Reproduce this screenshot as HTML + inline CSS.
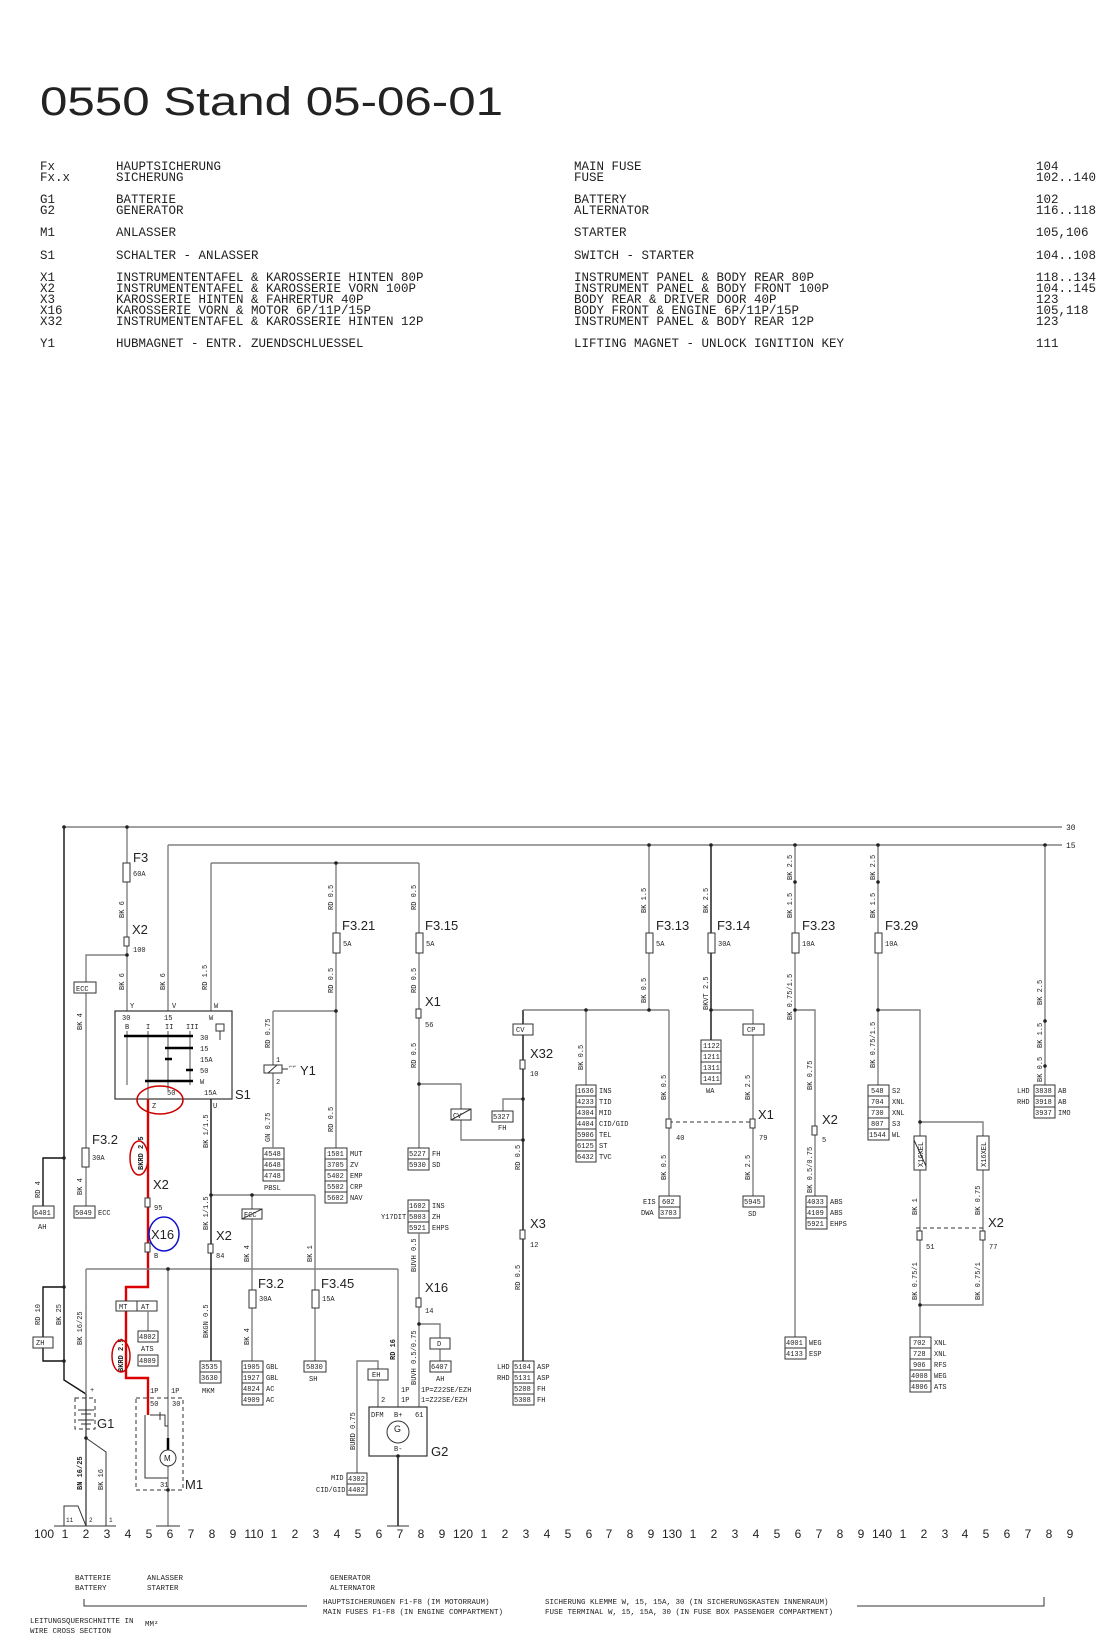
<!DOCTYPE html>
<html><head><meta charset="utf-8"><style>
html,body{margin:0;padding:0;background:#fff;}
svg{display:block;}
.m{font-family:"Liberation Mono",monospace;fill:#222;}
.s{font-family:"Liberation Sans",sans-serif;fill:#222;}
.w{stroke:#808080;stroke-width:1.4;fill:none;}
.b{stroke:#111;stroke-width:1.4;fill:none;}
.bx{fill:#fff;stroke:#333;stroke-width:1;}
.f{fill:#fff;stroke:#333;stroke-width:1;}
</style></head><body>
<svg width="1108" height="1649" viewBox="0 0 1108 1649" xmlns="http://www.w3.org/2000/svg">
<text x="40" y="115" class="s" font-size="40" textLength="463" lengthAdjust="spacingAndGlyphs">0550 Stand 05-06-01</text>
<g class="m" font-size="12.5">
<text x="40" y="170">Fx</text><text x="116" y="170">HAUPTSICHERUNG</text><text x="574" y="170">MAIN FUSE</text><text x="1036" y="170">104</text>
<text x="40" y="181">Fx.x</text><text x="116" y="181">SICHERUNG</text><text x="574" y="181">FUSE</text><text x="1036" y="181">102..140</text>
<text x="40" y="203">G1</text><text x="116" y="203">BATTERIE</text><text x="574" y="203">BATTERY</text><text x="1036" y="203">102</text>
<text x="40" y="214">G2</text><text x="116" y="214">GENERATOR</text><text x="574" y="214">ALTERNATOR</text><text x="1036" y="214">116..118</text>
<text x="40" y="236">M1</text><text x="116" y="236">ANLASSER</text><text x="574" y="236">STARTER</text><text x="1036" y="236">105,106</text>
<text x="40" y="259">S1</text><text x="116" y="259">SCHALTER - ANLASSER</text><text x="574" y="259">SWITCH - STARTER</text><text x="1036" y="259">104..108</text>
<text x="40" y="281">X1</text><text x="116" y="281">INSTRUMENTENTAFEL &amp; KAROSSERIE HINTEN 80P</text><text x="574" y="281">INSTRUMENT PANEL &amp; BODY REAR 80P</text><text x="1036" y="281">118..134</text>
<text x="40" y="292">X2</text><text x="116" y="292">INSTRUMENTENTAFEL &amp; KAROSSERIE VORN 100P</text><text x="574" y="292">INSTRUMENT PANEL &amp; BODY FRONT 100P</text><text x="1036" y="292">104..145</text>
<text x="40" y="303">X3</text><text x="116" y="303">KAROSSERIE HINTEN &amp; FAHRERTUR 40P</text><text x="574" y="303">BODY REAR &amp; DRIVER DOOR 40P</text><text x="1036" y="303">123</text>
<text x="40" y="314">X16</text><text x="116" y="314">KAROSSERIE VORN &amp; MOTOR  6P/11P/15P</text><text x="574" y="314">BODY FRONT &amp; ENGINE 6P/11P/15P</text><text x="1036" y="314">105,118</text>
<text x="40" y="325">X32</text><text x="116" y="325">INSTRUMENTENTAFEL &amp; KAROSSERIE HINTEN 12P</text><text x="574" y="325">INSTRUMENT PANEL &amp; BODY REAR 12P</text><text x="1036" y="325">123</text>
<text x="40" y="347">Y1</text><text x="116" y="347">HUBMAGNET - ENTR. ZUENDSCHLUESSEL</text><text x="574" y="347">LIFTING MAGNET - UNLOCK IGNITION KEY</text><text x="1036" y="347">111</text>
</g>

<path class="w" d="M64 827H1062M168 845H1062"/>
<text x="1066" y="830" class="m" font-size="8">30</text><text x="1066" y="848" class="m" font-size="8">15</text>
<path class="b" d="M64 827V1380L86 1394"/>
<path class="w" d="M127 827V1011M127 955H86V1206M168 845V1011M211 863V1011M211 863H419M336 863V1148M419 863V1148"/>
<rect class="f" x="123" y="863" width="7" height="19"/><text x="133" y="862" class="s" font-size="13">F3</text><text x="133" y="876" class="m" font-size="7">60A</text>
<rect class="f" x="124" y="937" width="5" height="9"/><text x="132" y="934" class="s" font-size="13">X2</text><text x="133" y="952" class="m" font-size="7">100</text>
<rect class="bx" x="74" y="982" width="22" height="11"/><text x="76" y="991" class="m" font-size="7">ECC</text>
<rect class="f" x="82" y="1148" width="7" height="19"/><text x="92" y="1144" class="s" font-size="13">F3.2</text><text x="92" y="1160" class="m" font-size="7">30A</text>
<rect class="bx" x="74" y="1206" width="21" height="12"/><text x="75" y="1215" class="m" font-size="7">5049</text><text x="98" y="1215" class="m" font-size="7">ECC</text>
<path class="b" d="M64 1158H43V1206"/>
<rect class="bx" x="33" y="1206" width="21" height="12"/><text x="34" y="1215" class="m" font-size="7">6401</text><text x="38" y="1229" class="m" font-size="7">AH</text>
<g class="m" font-size="7">
<text transform="translate(124,918) rotate(-90)">BK 6</text><text transform="translate(124,990) rotate(-90)">BK 6</text>
<text transform="translate(165,990) rotate(-90)">BK 6</text><text transform="translate(207,990) rotate(-90)">RD 1.5</text>
<text transform="translate(82,1030) rotate(-90)">BK 4</text><text transform="translate(82,1195) rotate(-90)">BK 4</text>
<text transform="translate(40,1198) rotate(-90)">RD 4</text>
<text transform="translate(333,910) rotate(-90)">RD 0.5</text><text transform="translate(333,993) rotate(-90)">RD 0.5</text><text transform="translate(333,1132) rotate(-90)">RD 0.5</text>
<text transform="translate(416,910) rotate(-90)">RD 0.5</text><text transform="translate(416,993) rotate(-90)">RD 0.5</text><text transform="translate(416,1068) rotate(-90)">RD 0.5</text>
<text transform="translate(270,1048) rotate(-90)">RD 0.75</text><text transform="translate(270,1142) rotate(-90)">GN 0.75</text>
</g>
<rect x="115" y="1011" width="117" height="88" fill="none" stroke="#333" stroke-width="1.2"/>
<g class="m" font-size="7"><text x="130" y="1008">Y</text><text x="172" y="1008">V</text><text x="214" y="1008">W</text>
<text x="122" y="1020">30</text><text x="164" y="1020">15</text><text x="209" y="1020">W</text>
<text x="125" y="1029">B</text><text x="146" y="1029">I</text><text x="165" y="1029">II</text><text x="186" y="1029">III</text>
<text x="200" y="1040">30</text><text x="200" y="1051">15</text><text x="200" y="1062">15A</text><text x="200" y="1073">50</text><text x="200" y="1084">W</text>
<text x="167" y="1095">50</text><text x="204" y="1095">15A</text><text x="152" y="1108">Z</text><text x="213" y="1108">U</text></g>
<path class="w" d="M127 1031V1085M148 1031V1099M168 1031V1090M190 1031V1085"/>
<path stroke="#000" stroke-width="2.4" d="M124 1036H193M165 1048H193M165 1059H172M186 1070H193M145 1081H193"/>
<rect x="216" y="1024" width="8" height="7" fill="none" stroke="#333"/><path stroke="#333" d="M220 1031V1040"/>
<text x="235" y="1099" class="s" font-size="13">S1</text>
<path d="M148 1099V1287H126V1301M126 1311V1378H148V1415" stroke="#d00" stroke-width="2.4" fill="none"/>
<ellipse cx="160" cy="1100" rx="23" ry="14" fill="none" stroke="#c00" stroke-width="1.5"/>
<ellipse cx="139" cy="1158" rx="9" ry="17" fill="none" stroke="#c00" stroke-width="1.5"/>
<text transform="translate(143,1170) rotate(-90)" class="m" font-size="7" font-weight="bold">BKRD 2.5</text>
<rect class="f" x="145" y="1198" width="5" height="9"/><text x="153" y="1189" class="s" font-size="13">X2</text><text x="154" y="1210" class="m" font-size="7">95</text>
<ellipse cx="164" cy="1234" rx="15" ry="17" fill="none" stroke="#11c" stroke-width="1.5"/><text x="151" y="1239" class="s" font-size="13">X16</text>
<rect class="f" x="145" y="1243" width="5" height="9"/><text x="154" y="1258" class="m" font-size="7">B</text>
<path class="w" d="M86 1269H398M86 1269V1526M168 1269V1526M398 1269V1407"/>
<path class="b" d="M398 1456V1526"/>
<path class="b" d="M211 1099V1362"/>
<path class="w" d="M211 1195H315M252 1195V1361M315 1195V1361"/>
<rect class="bx" x="242" y="1209" width="20" height="10"/><text x="244" y="1217" class="m" font-size="7">ECC</text><path stroke="#333" d="M242 1219L262 1209"/>
<rect class="f" x="208" y="1244" width="5" height="9"/><text x="216" y="1240" class="s" font-size="13">X2</text><text x="216" y="1258" class="m" font-size="7">84</text>
<rect class="f" x="249" y="1290" width="7" height="18"/><text x="258" y="1288" class="s" font-size="13">F3.2</text><text x="259" y="1301" class="m" font-size="7">30A</text>
<rect class="f" x="312" y="1290" width="7" height="18"/><text x="321" y="1288" class="s" font-size="13">F3.45</text><text x="322" y="1301" class="m" font-size="7">15A</text>
<g class="m" font-size="7">
<text transform="translate(208,1148) rotate(-90)">BK 1/1.5</text><text transform="translate(208,1230) rotate(-90)">BK 1/1.5</text>
<text transform="translate(208,1338) rotate(-90)">BKGN 0.5</text>
<text transform="translate(249,1262) rotate(-90)">BK 4</text><text transform="translate(249,1345) rotate(-90)">BK 4</text>
<text transform="translate(312,1262) rotate(-90)">BK 1</text>
<text transform="translate(82,1345) rotate(-90)">BK 16/25</text>
<text transform="translate(40,1325) rotate(-90)">RD 10</text><text transform="translate(61,1325) rotate(-90)">BK 25</text>
<text transform="translate(82,1490) rotate(-90)" font-weight="bold">BN 16/25</text><text transform="translate(103,1490) rotate(-90)">BK 16</text>
<text transform="translate(395,1360) rotate(-90)" font-weight="bold">RD 16</text>
<text transform="translate(355,1450) rotate(-90)">BURD 0.75</text>
<text transform="translate(416,1272) rotate(-90)">BUVH 0.5</text>
<text transform="translate(416,1385) rotate(-90)">BUVH 0.5/0.75</text>
</g>
<g class="m" font-size="7">
<rect class="bx" x="200" y="1361" width="21" height="11"/><text x="201" y="1369">3535</text>
<rect class="bx" x="200" y="1372" width="21" height="11"/><text x="201" y="1380">3630</text><text x="202" y="1393">MKM</text>
<rect class="bx" x="242" y="1361" width="21" height="11"/><text x="243" y="1369">1905</text><text x="266" y="1369">GBL</text>
<rect class="bx" x="242" y="1372" width="21" height="11"/><text x="243" y="1380">1927</text><text x="266" y="1380">GBL</text>
<rect class="bx" x="242" y="1383" width="21" height="11"/><text x="243" y="1391">4824</text><text x="266" y="1391">AC</text>
<rect class="bx" x="242" y="1394" width="21" height="11"/><text x="243" y="1402">4909</text><text x="266" y="1402">AC</text>
<rect class="bx" x="304" y="1361" width="22" height="11"/><text x="306" y="1369">5830</text><text x="309" y="1381">SH</text>
<rect class="bx" x="263" y="1148" width="21" height="11"/><text x="264" y="1156">4548</text>
<rect class="bx" x="263" y="1159" width="21" height="11"/><text x="264" y="1167">4648</text>
<rect class="bx" x="263" y="1170" width="21" height="11"/><text x="264" y="1178">4748</text><text x="264" y="1190">PBSL</text>
<rect class="bx" x="325" y="1148" width="22" height="11"/><text x="327" y="1156">1501</text><text x="350" y="1156">MUT</text>
<rect class="bx" x="325" y="1159" width="22" height="11"/><text x="327" y="1167">3705</text><text x="350" y="1167">ZV</text>
<rect class="bx" x="325" y="1170" width="22" height="11"/><text x="327" y="1178">5402</text><text x="350" y="1178">EMP</text>
<rect class="bx" x="325" y="1181" width="22" height="11"/><text x="327" y="1189">5502</text><text x="350" y="1189">CRP</text>
<rect class="bx" x="325" y="1192" width="22" height="11"/><text x="327" y="1200">5602</text><text x="350" y="1200">NAV</text>
<rect class="bx" x="408" y="1148" width="21" height="11"/><text x="409" y="1156">5227</text><text x="432" y="1156">FH</text>
<rect class="bx" x="408" y="1159" width="21" height="11"/><text x="409" y="1167">5930</text><text x="432" y="1167">SD</text>
<rect class="bx" x="408" y="1200" width="21" height="11"/><text x="409" y="1208">1602</text><text x="432" y="1208">INS</text>
<rect class="bx" x="408" y="1211" width="21" height="11"/><text x="409" y="1219">5803</text><text x="432" y="1219">ZH</text>
<rect class="bx" x="408" y="1222" width="21" height="11"/><text x="409" y="1230">5921</text><text x="432" y="1230">EHPS</text>
<text x="381" y="1219">Y17DIT</text>
</g>
<rect class="f" x="333" y="933" width="7" height="20"/><text x="342" y="930" class="s" font-size="13">F3.21</text><text x="343" y="946" class="m" font-size="7">5A</text>
<rect class="f" x="416" y="933" width="7" height="20"/><text x="425" y="930" class="s" font-size="13">F3.15</text><text x="426" y="946" class="m" font-size="7">5A</text>
<rect class="f" x="416" y="1009" width="5" height="9"/><text x="425" y="1006" class="s" font-size="13">X1</text><text x="425" y="1027" class="m" font-size="7">56</text>
<path class="w" d="M273 1011H336M273 1011V1148"/>
<rect class="f" x="264" y="1065" width="18" height="8"/><path stroke="#333" d="M268 1073L277 1065M282 1069H288"/>
<text x="276" y="1062" class="m" font-size="7">1</text><text x="276" y="1084" class="m" font-size="7">2</text>
<text x="289" y="1068" class="m" font-size="6">⌐⌐</text><text x="300" y="1075" class="s" font-size="13">Y1</text>
<path class="w" d="M419 1084H461V1140H523M523 1099H503V1111"/>
<rect class="bx" x="451" y="1109" width="20" height="11"/><text x="453" y="1118" class="m" font-size="7">CV</text><path stroke="#333" d="M451 1120L471 1109"/>
<rect class="bx" x="492" y="1111" width="21" height="11"/><text x="493" y="1119" class="m" font-size="7">5327</text><text x="498" y="1130" class="m" font-size="7">FH</text>
<path class="b" d="M523 1010V1362"/>
<path class="w" d="M523 1010H669M586 1010V1085M669 1010V1196M649 845V1010"/>
<rect class="bx" x="513" y="1024" width="20" height="11"/><text x="516" y="1032" class="m" font-size="7">CV</text>
<rect class="f" x="520" y="1060" width="5" height="9"/><text x="530" y="1058" class="s" font-size="13">X32</text><text x="530" y="1076" class="m" font-size="7">10</text>
<rect class="f" x="520" y="1230" width="5" height="9"/><text x="530" y="1228" class="s" font-size="13">X3</text><text x="530" y="1247" class="m" font-size="7">12</text>
<g class="m" font-size="7">
<text transform="translate(520,1170) rotate(-90)">RD 0.5</text><text transform="translate(520,1290) rotate(-90)">RD 0.5</text>
<text transform="translate(583,1070) rotate(-90)">BK 0.5</text>
<text transform="translate(646,913) rotate(-90)">BK 1.5</text><text transform="translate(646,1003) rotate(-90)">BK 0.5</text>
<text transform="translate(666,1100) rotate(-90)">BK 0.5</text><text transform="translate(666,1180) rotate(-90)">BK 0.5</text>
<text transform="translate(708,913) rotate(-90)">BK 2.5</text><text transform="translate(708,1010) rotate(-90)">BKVT 2.5</text>
<text transform="translate(750,1100) rotate(-90)">BK 2.5</text><text transform="translate(750,1180) rotate(-90)">BK 2.5</text>
<text transform="translate(792,880) rotate(-90)">BK 2.5</text><text transform="translate(792,918) rotate(-90)">BK 1.5</text><text transform="translate(792,1020) rotate(-90)">BK 0.75/1.5</text>
<text transform="translate(812,1090) rotate(-90)">BK 0.75</text><text transform="translate(812,1193) rotate(-90)">BK 0.5/0.75</text>
<text transform="translate(875,880) rotate(-90)">BK 2.5</text><text transform="translate(875,918) rotate(-90)">BK 1.5</text><text transform="translate(875,1068) rotate(-90)">BK 0.75/1.5</text>
<text transform="translate(917,1215) rotate(-90)">BK 1</text><text transform="translate(980,1215) rotate(-90)">BK 0.75</text>
<text transform="translate(917,1300) rotate(-90)">BK 0.75/1</text><text transform="translate(980,1300) rotate(-90)">BK 0.75/1</text>
<text transform="translate(1042,1005) rotate(-90)">BK 2.5</text><text transform="translate(1042,1048) rotate(-90)">BK 1.5</text><text transform="translate(1042,1082) rotate(-90)">BK 0.5</text>
</g>
<rect class="f" x="646" y="933" width="7" height="20"/><text x="656" y="930" class="s" font-size="13">F3.13</text><text x="656" y="946" class="m" font-size="7">5A</text>
<path class="b" d="M711 845V1040"/><path class="w" d="M711 1010H753V1196"/>
<rect class="f" x="708" y="933" width="7" height="20"/><text x="717" y="930" class="s" font-size="13">F3.14</text><text x="718" y="946" class="m" font-size="7">30A</text>
<rect class="bx" x="743" y="1024" width="21" height="11"/><text x="747" y="1032" class="m" font-size="7">CP</text>
<path d="M669 1122H753" stroke="#333" stroke-dasharray="4,3" fill="none"/>
<rect class="f" x="666" y="1119" width="5" height="9"/><rect class="f" x="750" y="1119" width="5" height="9"/>
<text x="758" y="1119" class="s" font-size="13">X1</text><text x="676" y="1140" class="m" font-size="7">40</text><text x="759" y="1140" class="m" font-size="7">79</text>
<path class="w" d="M795 845V1337M795 1010H815V1196M878 845V1085M878 1010H920V1136M920 1122H983V1136M920 1170V1337M983 1170V1305H920M1045 845V1085"/>
<rect class="f" x="792" y="933" width="7" height="20"/><text x="802" y="930" class="s" font-size="13">F3.23</text><text x="802" y="946" class="m" font-size="7">10A</text>
<rect class="f" x="875" y="933" width="7" height="20"/><text x="885" y="930" class="s" font-size="13">F3.29</text><text x="885" y="946" class="m" font-size="7">10A</text>
<rect class="f" x="812" y="1126" width="5" height="9"/><text x="822" y="1124" class="s" font-size="13">X2</text><text x="822" y="1142" class="m" font-size="7">5</text>
<rect class="bx" x="914" y="1136" width="12" height="34"/><rect class="bx" x="977" y="1136" width="12" height="34"/>
<path stroke="#333" d="M914 1140L926 1166"/>
<text transform="translate(923,1167) rotate(-90)" class="m" font-size="7">X16XEL</text><text transform="translate(986,1167) rotate(-90)" class="m" font-size="7">X16XEL</text>
<path d="M916 1228H985" stroke="#333" stroke-dasharray="4,3" fill="none"/>
<rect class="f" x="917" y="1231" width="5" height="9"/><rect class="f" x="980" y="1231" width="5" height="9"/>
<text x="988" y="1227" class="s" font-size="13">X2</text><text x="926" y="1249" class="m" font-size="7">51</text><text x="989" y="1249" class="m" font-size="7">77</text>
<g class="m" font-size="7">
<rect class="bx" x="576" y="1085" width="20" height="11"/><text x="577" y="1093">1636</text><text x="599" y="1093">INS</text>
<rect class="bx" x="576" y="1096" width="20" height="11"/><text x="577" y="1104">4233</text><text x="599" y="1104">TID</text>
<rect class="bx" x="576" y="1107" width="20" height="11"/><text x="577" y="1115">4304</text><text x="599" y="1115">MID</text>
<rect class="bx" x="576" y="1118" width="20" height="11"/><text x="577" y="1126">4404</text><text x="599" y="1126">CID/GID</text>
<rect class="bx" x="576" y="1129" width="20" height="11"/><text x="577" y="1137">5906</text><text x="599" y="1137">TEL</text>
<rect class="bx" x="576" y="1140" width="20" height="11"/><text x="577" y="1148">6125</text><text x="599" y="1148">ST</text>
<rect class="bx" x="576" y="1151" width="20" height="11"/><text x="577" y="1159">6432</text><text x="599" y="1159">TVC</text>
<rect class="bx" x="659" y="1196" width="21" height="11"/><text x="662" y="1204">602</text><text x="643" y="1204">EIS</text>
<rect class="bx" x="659" y="1207" width="21" height="11"/><text x="660" y="1215">3703</text><text x="641" y="1215">DWA</text>
<rect class="bx" x="701" y="1040" width="20" height="11"/><text x="703" y="1048">1122</text>
<rect class="bx" x="701" y="1051" width="20" height="11"/><text x="703" y="1059">1211</text>
<rect class="bx" x="701" y="1062" width="20" height="11"/><text x="703" y="1070">1311</text>
<rect class="bx" x="701" y="1073" width="20" height="11"/><text x="703" y="1081">1411</text><text x="706" y="1093">WA</text>
<rect class="bx" x="743" y="1196" width="21" height="11"/><text x="744" y="1204">5945</text><text x="748" y="1216">SD</text>
<rect class="bx" x="806" y="1196" width="21" height="11"/><text x="807" y="1204">4033</text><text x="830" y="1204">ABS</text>
<rect class="bx" x="806" y="1207" width="21" height="11"/><text x="807" y="1215">4109</text><text x="830" y="1215">ABS</text>
<rect class="bx" x="806" y="1218" width="21" height="11"/><text x="807" y="1226">5921</text><text x="830" y="1226">EHPS</text>
<rect class="bx" x="785" y="1337" width="21" height="11"/><text x="786" y="1345">4001</text><text x="809" y="1345">WEG</text>
<rect class="bx" x="785" y="1348" width="21" height="11"/><text x="786" y="1356">4133</text><text x="809" y="1356">ESP</text>
<rect class="bx" x="868" y="1085" width="21" height="11"/><text x="871" y="1093">548</text><text x="892" y="1093">S2</text>
<rect class="bx" x="868" y="1096" width="21" height="11"/><text x="871" y="1104">704</text><text x="892" y="1104">XNL</text>
<rect class="bx" x="868" y="1107" width="21" height="11"/><text x="871" y="1115">730</text><text x="892" y="1115">XNL</text>
<rect class="bx" x="868" y="1118" width="21" height="11"/><text x="871" y="1126">807</text><text x="892" y="1126">S3</text>
<rect class="bx" x="868" y="1129" width="21" height="11"/><text x="869" y="1137">1544</text><text x="892" y="1137">WL</text>
<rect class="bx" x="910" y="1337" width="21" height="11"/><text x="913" y="1345">702</text><text x="934" y="1345">XNL</text>
<rect class="bx" x="910" y="1348" width="21" height="11"/><text x="913" y="1356">728</text><text x="934" y="1356">XNL</text>
<rect class="bx" x="910" y="1359" width="21" height="11"/><text x="913" y="1367">906</text><text x="934" y="1367">RFS</text>
<rect class="bx" x="910" y="1370" width="21" height="11"/><text x="911" y="1378">4008</text><text x="934" y="1378">WEG</text>
<rect class="bx" x="910" y="1381" width="21" height="11"/><text x="911" y="1389">4806</text><text x="934" y="1389">ATS</text>
<rect class="bx" x="1034" y="1085" width="21" height="11"/><text x="1035" y="1093">3838</text><text x="1058" y="1093">AB</text><text x="1017" y="1093">LHD</text>
<rect class="bx" x="1034" y="1096" width="21" height="11"/><text x="1035" y="1104">3918</text><text x="1058" y="1104">AB</text><text x="1017" y="1104">RHD</text>
<rect class="bx" x="1034" y="1107" width="21" height="11"/><text x="1035" y="1115">3937</text><text x="1058" y="1115">IMO</text>
<rect class="bx" x="513" y="1361" width="21" height="11"/><text x="514" y="1369">5104</text><text x="537" y="1369">ASP</text><text x="497" y="1369">LHD</text>
<rect class="bx" x="513" y="1372" width="21" height="11"/><text x="514" y="1380">5131</text><text x="537" y="1380">ASP</text><text x="497" y="1380">RHD</text>
<rect class="bx" x="513" y="1383" width="21" height="11"/><text x="514" y="1391">5208</text><text x="537" y="1391">FH</text>
<rect class="bx" x="513" y="1394" width="21" height="11"/><text x="514" y="1402">5308</text><text x="537" y="1402">FH</text>
</g>
<path class="w" d="M419 1233V1407M419 1324H440V1338M440 1349V1361M378 1380V1407M378 1370V1361H357V1473"/>
<rect class="f" x="416" y="1298" width="5" height="9"/><text x="425" y="1292" class="s" font-size="13">X16</text><text x="425" y="1313" class="m" font-size="7">14</text>
<rect class="bx" x="430" y="1338" width="20" height="11"/><text x="437" y="1346" class="m" font-size="7">D</text>
<rect class="bx" x="430" y="1361" width="21" height="11"/><text x="431" y="1369" class="m" font-size="7">6407</text><text x="436" y="1381" class="m" font-size="7">AH</text>
<rect class="bx" x="368" y="1369" width="20" height="11"/><text x="372" y="1377" class="m" font-size="7">EH</text>
<g class="m" font-size="7"><text x="401" y="1392">1P</text><text x="401" y="1402">1P</text><text x="421" y="1392">1P=Z22SE/EZH</text><text x="421" y="1402">1=Z22SE/EZH</text><text x="381" y="1402">2</text>
<text x="371" y="1417">DFM</text><text x="394" y="1417">B+</text><text x="415" y="1417">61</text><text x="394" y="1451">B-</text>
<text x="331" y="1480">MID</text><text x="316" y="1492">CID/GID</text></g>
<rect x="369" y="1407" width="58" height="49" fill="none" stroke="#333" stroke-width="1.2"/>
<circle cx="398" cy="1432" r="11" fill="none" stroke="#333"/><text x="394" y="1432" class="s" font-size="9">G</text>
<text x="431" y="1456" class="s" font-size="13">G2</text>
<rect class="bx" x="347" y="1473" width="20" height="11"/><text x="348" y="1481" class="m" font-size="7">4302</text>
<rect class="bx" x="347" y="1484" width="20" height="11"/><text x="348" y="1492" class="m" font-size="7">4402</text>
<rect class="bx" x="116" y="1301" width="21" height="10"/><text x="119" y="1309" class="m" font-size="7">MT</text>
<rect class="bx" x="137" y="1301" width="20" height="10"/><text x="141" y="1309" class="m" font-size="7">AT</text>
<path class="w" d="M148 1311V1331"/>
<rect class="bx" x="138" y="1331" width="20" height="11"/><text x="139" y="1339" class="m" font-size="7">4802</text><text x="141" y="1351" class="m" font-size="7">ATS</text>
<rect class="bx" x="138" y="1355" width="20" height="11"/><text x="139" y="1363" class="m" font-size="7">4809</text>
<text transform="translate(123,1372) rotate(-90)" class="m" font-size="7" font-weight="bold">BKRD 2.5</text>
<ellipse cx="121" cy="1356" rx="9" ry="16" fill="none" stroke="#c00" stroke-width="1.5"/>
<rect x="136" y="1398" width="47" height="92" fill="none" stroke="#333" stroke-dasharray="4,3"/>
<g class="m" font-size="7"><text x="150" y="1393">1P</text><text x="171" y="1393">1P</text><text x="150" y="1406">50</text><text x="172" y="1406">30</text><text x="160" y="1487">31</text></g>
<path stroke="#333" fill="none" d="M145 1415V1478H168M150 1415H165V1426H168M160 1412V1420"/>
<path stroke="#000" stroke-width="2.5" d="M168 1438V1450"/>
<circle cx="168" cy="1458" r="8" fill="#fff" stroke="#333"/><text x="164" y="1461" class="s" font-size="8">M</text>
<text x="185" y="1489" class="s" font-size="13">M1</text>
<path class="b" d="M64 1287H43V1337M43 1348V1361H64"/>
<rect class="bx" x="33" y="1337" width="20" height="11"/><text x="36" y="1345" class="m" font-size="7">ZH</text>
<rect x="75" y="1398" width="20" height="31" fill="none" stroke="#333" stroke-dasharray="4,3"/>
<path stroke="#333" fill="none" d="M86 1394V1526M78 1410H94M81 1414H91M78 1420H94M81 1424H91M86 1438L106 1452V1526"/>
<text x="90" y="1392" class="m" font-size="7">+</text><text x="97" y="1428" class="s" font-size="13">G1</text>
<path stroke="#333" fill="none" d="M54 1526H116M64 1526V1506H78L86 1526M156 1526H180M387 1526H409"/>
<g class="m" font-size="6"><text x="66" y="1522">11</text><text x="89" y="1522">2</text><text x="109" y="1522">1</text></g>
<g fill="#222"><circle cx="64" cy="827" r="1.8"/><circle cx="127" cy="827" r="1.8"/><circle cx="127" cy="955" r="1.8"/><circle cx="336" cy="863" r="1.8"/><circle cx="336" cy="1011" r="1.8"/><circle cx="419" cy="1084" r="1.8"/><circle cx="523" cy="1099" r="1.8"/><circle cx="523" cy="1140" r="1.8"/><circle cx="586" cy="1010" r="1.8"/><circle cx="649" cy="1010" r="1.8"/><circle cx="649" cy="845" r="1.8"/><circle cx="711" cy="845" r="1.8"/><circle cx="711" cy="1010" r="1.8"/><circle cx="795" cy="845" r="1.8"/><circle cx="795" cy="1010" r="1.8"/><circle cx="795" cy="882" r="1.8"/><circle cx="878" cy="845" r="1.8"/><circle cx="878" cy="882" r="1.8"/><circle cx="878" cy="1010" r="1.8"/><circle cx="920" cy="1122" r="1.8"/><circle cx="920" cy="1305" r="1.8"/><circle cx="1045" cy="845" r="1.8"/><circle cx="1045" cy="1021" r="1.8"/><circle cx="1045" cy="1066" r="1.8"/><circle cx="64" cy="1158" r="1.8"/><circle cx="64" cy="1287" r="1.8"/><circle cx="64" cy="1361" r="1.8"/><circle cx="211" cy="1195" r="1.8"/><circle cx="252" cy="1195" r="1.8"/><circle cx="168" cy="1269" r="1.8"/><circle cx="419" cy="1324" r="1.8"/><circle cx="398" cy="1456" r="1.8"/><circle cx="168" cy="1490" r="1.8"/><circle cx="86" cy="1438" r="1.8"/></g>
<g class="s" font-size="12" fill="#333" text-anchor="middle">
<text x="44" y="1538">100</text><text x="65" y="1538">1</text><text x="86" y="1538">2</text><text x="107" y="1538">3</text><text x="128" y="1538">4</text><text x="149" y="1538">5</text><text x="170" y="1538">6</text><text x="191" y="1538">7</text><text x="212" y="1538">8</text><text x="233" y="1538">9</text>
<text x="254" y="1538">110</text><text x="274" y="1538">1</text><text x="295" y="1538">2</text><text x="316" y="1538">3</text><text x="337" y="1538">4</text><text x="358" y="1538">5</text><text x="379" y="1538">6</text><text x="400" y="1538">7</text><text x="421" y="1538">8</text><text x="442" y="1538">9</text>
<text x="463" y="1538">120</text><text x="484" y="1538">1</text><text x="505" y="1538">2</text><text x="526" y="1538">3</text><text x="547" y="1538">4</text><text x="568" y="1538">5</text><text x="589" y="1538">6</text><text x="609" y="1538">7</text><text x="630" y="1538">8</text><text x="651" y="1538">9</text>
<text x="672" y="1538">130</text><text x="693" y="1538">1</text><text x="714" y="1538">2</text><text x="735" y="1538">3</text><text x="756" y="1538">4</text><text x="777" y="1538">5</text><text x="798" y="1538">6</text><text x="819" y="1538">7</text><text x="840" y="1538">8</text><text x="861" y="1538">9</text>
<text x="882" y="1538">140</text><text x="903" y="1538">1</text><text x="924" y="1538">2</text><text x="945" y="1538">3</text><text x="965" y="1538">4</text><text x="986" y="1538">5</text><text x="1007" y="1538">6</text><text x="1028" y="1538">7</text><text x="1049" y="1538">8</text><text x="1070" y="1538">9</text>
</g>
<g class="m" font-size="7.5">
<text x="75" y="1580">BATTERIE</text><text x="75" y="1590">BATTERY</text>
<text x="147" y="1580">ANLASSER</text><text x="147" y="1590">STARTER</text>
<text x="330" y="1580">GENERATOR</text><text x="330" y="1590">ALTERNATOR</text>
<text x="323" y="1604">HAUPTSICHERUNGEN F1-F8 (IM MOTORRAUM)</text><text x="323" y="1614">MAIN FUSES F1-F8 (IN ENGINE COMPARTMENT)</text>
<text x="545" y="1604">SICHERUNG KLEMME W, 15, 15A, 30 (IN SICHERUNGSKASTEN INNENRAUM)</text><text x="545" y="1614">FUSE TERMINAL W, 15, 15A, 30 (IN FUSE BOX PASSENGER COMPARTMENT)</text>
<text x="30" y="1623">LEITUNGSQUERSCHNITTE IN</text><text x="30" y="1633">WIRE CROSS SECTION</text><text x="145" y="1626">MM²</text>
</g>
<path stroke="#333" fill="none" d="M84 1599V1606H307M857 1606H1044V1597"/>
</svg>
</body></html>
